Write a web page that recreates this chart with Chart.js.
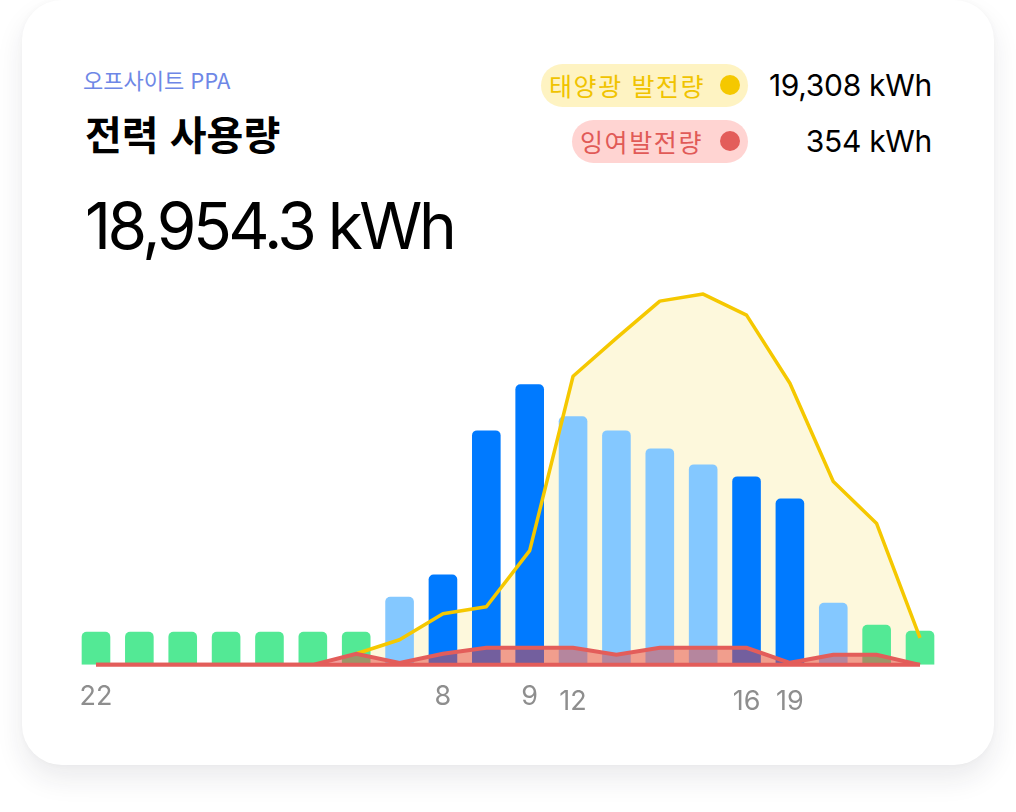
<!DOCTYPE html>
<html lang="ko">
<head>
<meta charset="utf-8">
<script src="https://cdn.jsdelivr.net/npm/chart.js@4"></script>
<style>
  html, body { margin: 0; padding: 0; background: #ffffff; }
  body { width: 1016px; height: 812px; position: relative; overflow: hidden;
         font-family: Inter, "Noto Sans CJK KR", sans-serif; }
  .card { position: absolute; left: 22px; top: 0px; width: 972px; height: 765px;
          background: #fff; border-radius: 40px;
          box-shadow: 0 14px 28px rgba(30, 30, 50, 0.09), 0 0 6px rgba(0,0,0,0.03); }
  .sub { position: absolute; left: 83px; top: 64px; font-size: 22px; color: #6E87E6;
         font-family: "Noto Sans CJK KR", sans-serif; line-height: 30px; letter-spacing: 0px; }
  .title { position: absolute; left: 85px; top: 105px; font-size: 40px; font-weight: 700; color: #000;
           font-family: "Noto Sans CJK KR", sans-serif; line-height: 56px; letter-spacing: 0px; }
  .total { position: absolute; left: 85px; top: 186px; font-size: 64px; color: #000;
           line-height: 80px; letter-spacing: -3.5px; }
  .pill { position: absolute; height: 43px; border-radius: 22px; font-size: 25px;
          font-family: "Noto Sans CJK KR", sans-serif; line-height: 43px; box-sizing: border-box;
          padding-left: 8px; white-space: nowrap; letter-spacing: 1.6px; }
  .pill .dot { position: absolute; right: 8px; top: 11px; width: 20px; height: 20px; border-radius: 50%; }
  .pill1 { left: 541px; top: 64px; width: 207px; background: #FEF3C2; color: #F0C300; }
  .pill1 .dot { background: #F5C800; }
  .pill2 { left: 572px; top: 120px; width: 176px; background: #FFD4D2; color: #E15A57; }
  .pill2 .dot { background: #E35D5A; }
  .val { position: absolute; right: 84px; font-size: 30px; color: #000; line-height: 40px; letter-spacing: -0.3px; }
  .v1 { top: 65px; }
  .v2 { top: 121px; }
  #wrap { position: absolute; left: 60px; top: 255px; width: 900px; height: 490px; }
</style>
</head>
<body>
<div class="card"></div>
<div class="sub">오프사이트 PPA</div>
<div class="title">전력 사용량</div>
<div class="total">18,954.3 kWh</div>
<div class="pill pill1">태양광 발전량<span class="dot"></span></div>
<div class="val v1">19,308 kWh</div>
<div class="pill pill2">잉여발전량<span class="dot"></span></div>
<div class="val v2">354 kWh</div>
<div id="wrap"><canvas id="c" width="900" height="490"></canvas></div>
<script>
// ---- data ----
const hourLabels = ['22','','','','','','','','8','','9','12','','','','16','19','','',''];
const usage = [248, 248, 248, 248, 248, 248, 248, 511, 677, 1759, 2105, 1865, 1759, 1624, 1504, 1414, 1248, 466, 301, 256];
const loadType = ['off','off','off','off','off','off','off','mid','peak','peak','peak','mid','mid','mid','mid','peak','peak','mid','off','off'];
const solar = [null, null, null, null, null, null, 83, 188, 383, 436, 857, 2165, 2451, 2729, 2782, 2624, 2113, 1376, 1060, 203];
const surplus = [0, 0, 0, 0, 0, 0, 83, 15, 83, 128, 128, 128, 75, 128, 128, 128, 15, 75, 75, 0];
const tallTickIdx = [11, 15, 16];

// ---- styles ----
const typeColor = { off: '#53E995', mid: '#84C8FF', peak: '#007AFF' };
const RED = '#E35D5A';

const baselinePlugin = {
  id: 'surplusBaseline',
  afterDatasetsDraw(chart) {
    const meta = chart.getDatasetMeta(3);
    const pts = meta.data;
    if (!pts.length) return;
    const y = chart.scales.y.getPixelForValue(0);
    const ctx = chart.ctx;
    ctx.save();
    ctx.strokeStyle = RED;
    ctx.lineWidth = 4;
    ctx.beginPath();
    ctx.moveTo(pts[0].x, y);
    ctx.lineTo(pts[pts.length - 1].x, y);
    ctx.stroke();
    ctx.restore();
  }
};

new Chart(document.getElementById('c'), {
  data: {
    labels: hourLabels,
    datasets: [
      { type: 'line', data: solar, borderWidth: 0, pointRadius: 0, fill: 'origin',
        backgroundColor: '#FDF8DC', order: 4 },
      { type: 'bar', data: usage, backgroundColor: loadType.map(t => typeColor[t]),
        barPercentage: 0.66, categoryPercentage: 1,
        borderRadius: { topLeft: 5, topRight: 5 }, borderSkipped: 'bottom', order: 3 },
      { type: 'line', data: solar, borderColor: '#F5C800', borderWidth: 3.5, pointRadius: 0,
        fill: false, tension: 0, order: 2, borderJoinStyle: 'round' },
      { type: 'line', data: surplus, borderColor: RED, borderWidth: 4, pointRadius: 0,
        fill: 'origin', backgroundColor: 'rgba(230, 68, 62, 0.5)', tension: 0, order: 1 }
    ]
  },
  options: {
    responsive: false,
    animation: false,
    layout: { padding: { left: 14.3, right: 18.3, top: 10, bottom: 5.5 } },
    plugins: { legend: { display: false }, tooltip: { enabled: false } },
    scales: {
      x: {
        grid: { display: false, drawTicks: false },
        border: { display: false },
        ticks: {
          autoSkip: false, maxRotation: 0, padding: 16, color: '#8E8E8E',
          font: (ctx) => ({ family: 'Inter, sans-serif', size: 27,
                            lineHeight: tallTickIdx.includes(ctx.index) ? 1.58 : 1.2 })
        }
      },
      y: { display: false, min: 0, max: 3000 }
    }
  },
  plugins: [baselinePlugin]
});
</script>
</body>
</html>
